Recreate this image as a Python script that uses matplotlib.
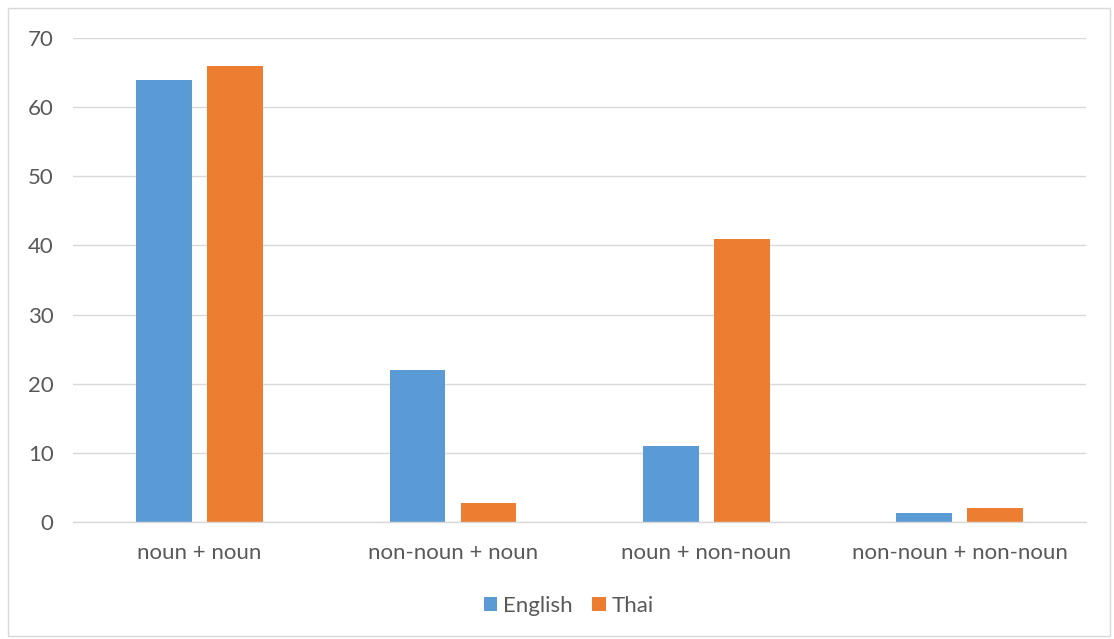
import matplotlib
matplotlib.use("Agg")
import matplotlib.pyplot as plt
from matplotlib.patches import Rectangle
import numpy as np

categories = ["noun + noun", "non-noun + noun", "noun + non-noun", "non-noun + non-noun"]
english = [64, 22, 11, 1.3]
thai = [66, 2.7, 41, 2.0]
yticks = [0, 10, 20, 30, 40, 50, 60, 70]

plt.rcParams['font.family'] = ['Lato', 'DejaVu Sans']
txt = '#595959'
fig = plt.figure(figsize=(11.14, 6.39), dpi=100)
ax = fig.add_axes([0.0655, 0.1831, 0.9097, 0.7574])

x = np.arange(len(categories))
w = 0.22
b1 = ax.bar(x - 0.14, english, w, color='#5B9BD5', label='English', zorder=3)
b2 = ax.bar(x + 0.14, thai, w, color='#ED7D31', label='Thai', zorder=3)

ax.set_xlim(-0.5, 3.5)
ax.set_ylim(0, 70)
ax.set_yticks(yticks)
ax.set_xticks(x)
ax.set_xticklabels(categories)
ax.yaxis.grid(True, color='#D9D9D9', linewidth=1, zorder=0)
for s in ['left', 'right', 'top']:
    ax.spines[s].set_visible(False)
ax.spines['bottom'].set_color('#D9D9D9')
ax.spines['bottom'].set_linewidth(1)
ax.spines['bottom'].set_zorder(4)
ax.tick_params(axis='both', length=0, labelsize=16, colors=txt)
ax.tick_params(axis='y', pad=14)
ax.tick_params(axis='x', pad=15)

leg = fig.legend(handles=[b1, b2], loc='center', bbox_to_anchor=(0.5105, 0.052), ncol=2,
                 frameon=False, fontsize=16, handlelength=0.6, handleheight=0.6,
                 handletextpad=0.25, columnspacing=0.9)
for t in leg.get_texts():
    t.set_color(txt)

fig.patches.append(Rectangle((0.0072, 0.005), 0.9892, 0.982, transform=fig.transFigure,
                             fill=False, edgecolor='#D9D9D9', linewidth=1))
fig.savefig('out.png', dpi=100)
